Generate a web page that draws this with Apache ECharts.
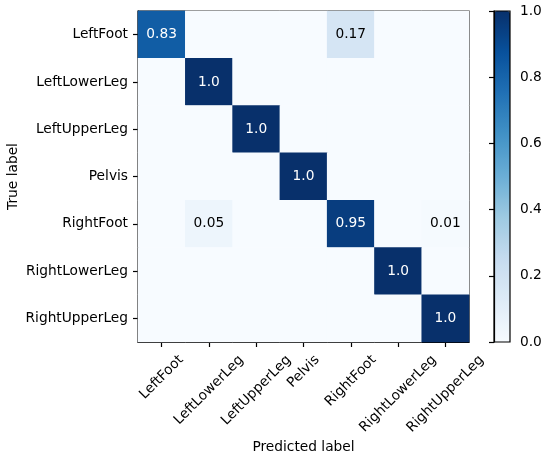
<!DOCTYPE html>
<html>
<head>
<meta charset="utf-8">
<script src="https://cdn.jsdelivr.net/npm/echarts@6/dist/echarts.min.js"></script>
<style>
  html, body { margin: 0; padding: 0; background: #fff; }
  #main { width: 550px; height: 458px; }
</style>
</head>
<body>
<div id="main"></div>
<script>
// class names, same order on both axes
var labels = ['LeftFoot', 'LeftLowerLeg', 'LeftUpperLeg', 'Pelvis', 'RightFoot', 'RightLowerLeg', 'RightUpperLeg'];

// normalised confusion matrix, one row per true label
var rowLeftFoot      = [0.83, 0, 0, 0, 0.17, 0, 0];
var rowLeftLowerLeg  = [0, 1.0, 0, 0, 0, 0, 0];
var rowLeftUpperLeg  = [0, 0, 1.0, 0, 0, 0, 0];
var rowPelvis        = [0, 0, 0, 1.0, 0, 0, 0];
var rowRightFoot     = [0, 0.05, 0, 0, 0.95, 0, 0.01];
var rowRightLowerLeg = [0, 0, 0, 0, 0, 1.0, 0];
var rowRightUpperLeg = [0, 0, 0, 0, 0, 0, 1.0];

var rows = [rowLeftFoot, rowLeftLowerLeg, rowLeftUpperLeg, rowPelvis,
            rowRightFoot, rowRightLowerLeg, rowRightUpperLeg];

var colorbarTicks = [0, 0.2, 0.4, 0.6, 0.8, 1.0];

// matplotlib "Blues"
var blues = ['#f7fbff', '#deebf7', '#c6dbef', '#9ecae1', '#6baed6',
             '#4292c6', '#2171b5', '#08519c', '#08306b'];

var font = 'DejaVu Sans';
var fs = 13.75;

var data = [];
rows.forEach(function (row, y) {
    row.forEach(function (v, x) {
        data.push({
            value: [x, y, v],
            label: { color: v > 0.5 ? '#fff' : '#000' }
        });
    });
});

// matplotlib centres the bounding box of each 45deg label under its tick,
// so push every label down/right by an amount that depends on its width
var ctx = document.createElement('canvas').getContext('2d');
ctx.font = fs + 'px "' + font + '"';
var rich = {};
labels.forEach(function (s, i) {
    var w = ctx.measureText(s).width;
    var h = fs * 1.17;
    var d = 10 + 0.354 * (w + h);
    var p = 1.414 * d;
    rich['l' + i] = { fontFamily: font, fontSize: fs, color: '#000', padding: [p, p, 0, 0] };
});

function tick() {
    return { show: true, inside: false, alignWithLabel: true, length: 5,
             lineStyle: { color: '#000', width: 1.2 } };
}

var myChart = echarts.init(document.getElementById('main'));

var option = {
    backgroundColor: '#fff',
    animation: false,
    textStyle: { fontFamily: font },
    grid: [
        { left: 138, top: 11, width: 331, height: 331, show: true, outerBoundsMode: 'none',
          borderColor: '#000', borderWidth: 1.2, backgroundColor: 'transparent' },
        { left: 494, top: 11, width: 16, height: 331, show: true, outerBoundsMode: 'none',
          borderColor: '#000', borderWidth: 1.2, backgroundColor: 'transparent', z: 10 }
    ],
    xAxis: [
        {
            type: 'category', data: labels, gridIndex: 0, position: 'bottom',
            name: 'Predicted label', nameLocation: 'middle', nameGap: 98,
            nameMoveOverlap: false,
            nameTextStyle: { fontFamily: font, fontSize: fs, color: '#000' },
            axisLine: { show: true, lineStyle: { color: '#000', width: 1.2 } },
            axisTick: tick(),
            axisLabel: {
                rotate: 45, margin: 0, align: 'center', verticalAlign: 'middle',
                interval: 0, hideOverlap: false, rich: rich,
                formatter: function (v, i) { return '{l' + i + '|' + v + '}'; }
            },
            splitLine: { show: false }
        },
        { type: 'value', gridIndex: 1, show: false, min: 0, max: 1 }
    ],
    yAxis: [
        {
            type: 'category', data: labels, gridIndex: 0, inverse: true, position: 'left',
            name: 'True label', nameLocation: 'middle', nameGap: 118,
            nameMoveOverlap: false,
            nameTextStyle: { fontFamily: font, fontSize: fs, color: '#000' },
            axisLine: { show: true, lineStyle: { color: '#000', width: 1.2 } },
            axisTick: tick(),
            axisLabel: { margin: 10, interval: 0, fontFamily: font, fontSize: fs, color: '#000' },
            splitLine: { show: false }
        },
        {
            type: 'value', gridIndex: 1, position: 'right', min: 0, max: 1, interval: 0.2,
            z: 10,
            axisLine: { show: true, lineStyle: { color: '#000', width: 1.2 } },
            axisTick: { show: true, inside: true, length: 5, lineStyle: { color: '#000', width: 1.2 } },
            axisLabel: {
                margin: 10, fontFamily: font, fontSize: fs, color: '#000',
                formatter: function (v) {
                    var i = colorbarTicks.indexOf(Math.round(v * 10) / 10);
                    return i >= 0 ? colorbarTicks[i].toFixed(1) : '';
                }
            },
            splitLine: { show: false }
        }
    ],
    visualMap: {
        type: 'continuous', min: 0, max: 1, seriesIndex: 0,
        calculable: false, orient: 'vertical', z: 1,
        left: 494, top: 11, itemWidth: 16, itemHeight: 331, padding: 0,
        text: null, showLabel: false,
        inRange: { color: blues }
    },
    series: [{
        type: 'heatmap',
        xAxisIndex: 0, yAxisIndex: 0,
        data: data,
        label: {
            show: true, fontFamily: font, fontSize: fs,
            formatter: function (p) {
                var v = p.value[2];
                if (v === 0) return '';
                return v === 1 ? '1.0' : String(v);
            }
        },
        itemStyle: { borderWidth: 0 },
        emphasis: { disabled: true }
    }]
};

myChart.setOption(option);
</script>
</body>
</html>
